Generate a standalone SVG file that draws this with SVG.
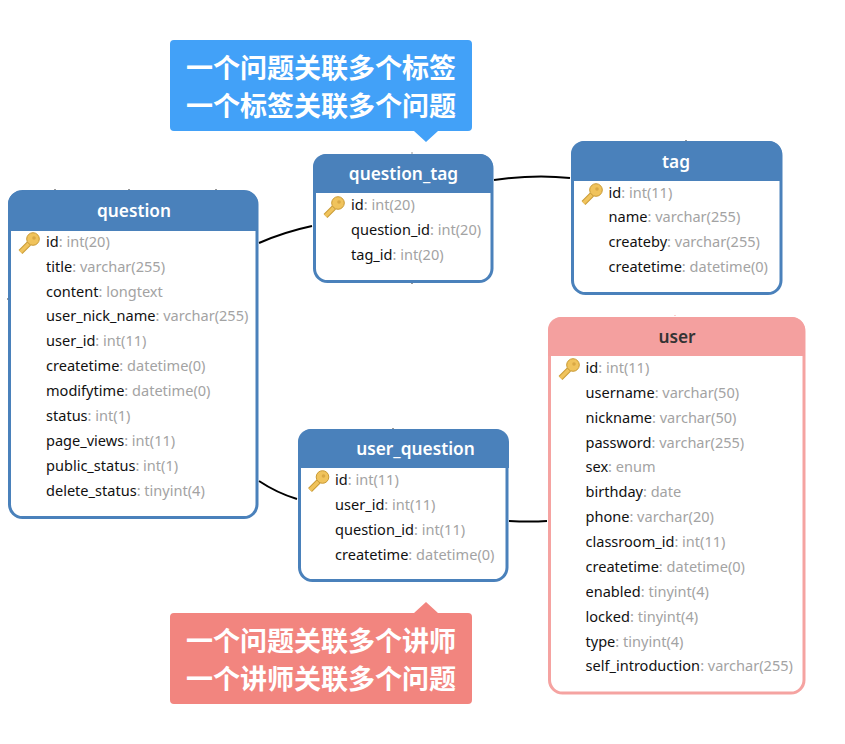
<svg xmlns="http://www.w3.org/2000/svg" width="845" height="744" viewBox="0 0 845 744">
<style>
text{font-family:"Noto Sans","Noto Sans CJK SC",sans-serif}
.box{fill:#fff;stroke-width:3}
.b{stroke:#4a81bb}.r{stroke:#f5a3a1}
.hb{fill:#4a81bb}.hr{fill:#f4a09f}
.t{font-size:17.3px;font-weight:600;text-anchor:middle;fill:#fff}
.td{fill:#333}
.f{font-size:14.55px;fill:#111}
.f tspan{fill:#a3a3a3}
.c{font-size:27px;font-weight:700;fill:#fff;font-family:"Noto Sans CJK SC",sans-serif;text-anchor:middle}
.l{fill:none;stroke:#000;stroke-width:2}
.k{fill:none;stroke:#333;stroke-width:1}
</style>
<defs>
<g id="key">
<path d="M-9.500 10 L-1 1.500" stroke="#c99a35" stroke-width="5.500" fill="none"/>
<path d="M-9.500 10 L-1 1.500" stroke="#f0c35c" stroke-width="3.500" fill="none"/>
<circle cx="3" cy="-3" r="6.300" fill="#f0c35c" stroke="#c99a35" stroke-width="1"/>
<circle cx="4" cy="-4" r="1.800" fill="#d9a845"/>
</g>
</defs>
<g id="connectors">
<path class="l" d="M259 243Q284 232 312 226"/>
<path class="l" d="M494 180Q535 174 570 178"/>
<path class="l" d="M259 481Q277 493 297 499"/>
<path class="l" d="M509 521Q530 522 547 521"/>
<path class="k" d="M55 189v1M129 189v1M216 189v1M8 299h-1M412 152.500v1M412 283v1M686 140v1M393 428v1"/>
<path d="M675 315v1" stroke="#f5a3a1" fill="none"/>
</g>
<g id="note-tag">
<path fill="#42a1f8" d="M174 40H468a4 4 0 0 1 4 4V127a4 4 0 0 1 -4 4H438L426 142L414 131H174a4 4 0 0 1 -4 -4V44a4 4 0 0 1 4 -4Z"/>
<text class="c" x="321" y="77.500">一个问题关联多个标签</text>
<text class="c" x="321" y="115.500">一个标签关联多个问题</text>
</g>
<g id="note-teacher">
<path fill="#f2857f" d="M174 613H414L426 602L438 613H468a4 4 0 0 1 4 4V700a4 4 0 0 1 -4 4H174a4 4 0 0 1 -4 -4V617a4 4 0 0 1 4 -4Z"/>
<text class="c" x="321" y="650.500">一个问题关联多个讲师</text>
<text class="c" x="321" y="688.500">一个讲师关联多个问题</text>
</g>
<g id="question">
<rect class="box b" x="9.500" y="191.500" width="247.500" height="326" rx="13"/>
<path class="hb" d="M8 231V204a13 13 0 0 1 13 -13H245a13 13 0 0 1 13 13V231Z"/>
<text class="t" x="134" y="216.500">question</text>
<use href="#key" x="30" y="242"/>
<text class="f" x="46" y="247">id<tspan>: int(20)</tspan></text>
<text class="f" x="46" y="272">title<tspan>: varchar(255)</tspan></text>
<text class="f" x="46" y="297">content<tspan>: longtext</tspan></text>
<text class="f" x="46" y="321">user_nick_name<tspan>: varchar(255)</tspan></text>
<text class="f" x="46" y="346">user_id<tspan>: int(11)</tspan></text>
<text class="f" x="46" y="371">createtime<tspan>: datetime(0)</tspan></text>
<text class="f" x="46" y="396">modifytime<tspan>: datetime(0)</tspan></text>
<text class="f" x="46" y="421">status<tspan>: int(1)</tspan></text>
<text class="f" x="46" y="446">page_views<tspan>: int(11)</tspan></text>
<text class="f" x="46" y="471">public_status<tspan>: int(1)</tspan></text>
<text class="f" x="46" y="496">delete_status<tspan>: tinyint(4)</tspan></text>
</g>
<g id="question_tag">
<rect class="box b" x="314.500" y="155.500" width="177.500" height="126" rx="13"/>
<path class="hb" d="M313 193V167a13 13 0 0 1 13 -13H480a13 13 0 0 1 13 13V193Z"/>
<text class="t" x="403.500" y="179.500">question_tag</text>
<use href="#key" x="335" y="206"/>
<text class="f" x="351" y="210">id<tspan>: int(20)</tspan></text>
<text class="f" x="351" y="235">question_id<tspan>: int(20)</tspan></text>
<text class="f" x="351" y="260">tag_id<tspan>: int(20)</tspan></text>
</g>
<g id="tag">
<rect class="box b" x="572.500" y="142.500" width="208.500" height="151" rx="13"/>
<path class="hb" d="M571 181V154a13 13 0 0 1 13 -13H769a13 13 0 0 1 13 13V181Z"/>
<text class="t" x="676" y="167.500">tag</text>
<use href="#key" x="593" y="193"/>
<text class="f" x="608.500" y="198">id<tspan>: int(11)</tspan></text>
<text class="f" x="608.500" y="222">name<tspan>: varchar(255)</tspan></text>
<text class="f" x="608.500" y="247">createby<tspan>: varchar(255)</tspan></text>
<text class="f" x="608.500" y="272">createtime<tspan>: datetime(0)</tspan></text>
</g>
<g id="user">
<rect class="box r" x="549.500" y="318.500" width="254.500" height="374.500" rx="13"/>
<path class="hr" d="M548 356V330a13 13 0 0 1 13 -13H792a13 13 0 0 1 13 13V356Z"/>
<text class="t td" x="677" y="342.500">user</text>
<use href="#key" x="570" y="368"/>
<text class="f" x="585.500" y="373">id<tspan>: int(11)</tspan></text>
<text class="f" x="585.500" y="398">username<tspan>: varchar(50)</tspan></text>
<text class="f" x="585.500" y="423">nickname<tspan>: varchar(50)</tspan></text>
<text class="f" x="585.500" y="448">password<tspan>: varchar(255)</tspan></text>
<text class="f" x="585.500" y="472">sex<tspan>: enum</tspan></text>
<text class="f" x="585.500" y="497">birthday<tspan>: date</tspan></text>
<text class="f" x="585.500" y="522">phone<tspan>: varchar(20)</tspan></text>
<text class="f" x="585.500" y="547">classroom_id<tspan>: int(11)</tspan></text>
<text class="f" x="585.500" y="572">createtime<tspan>: datetime(0)</tspan></text>
<text class="f" x="585.500" y="597">enabled<tspan>: tinyint(4)</tspan></text>
<text class="f" x="585.500" y="622">locked<tspan>: tinyint(4)</tspan></text>
<text class="f" x="585.500" y="647">type<tspan>: tinyint(4)</tspan></text>
<text class="f" x="585.500" y="671">self_introduction<tspan>: varchar(255)</tspan></text>
</g>
<g id="user_question">
<rect class="box b" x="299.500" y="430.500" width="207.500" height="150" rx="13"/>
<path class="hb" d="M298 468V442a13 13 0 0 1 13 -13H496a13 13 0 0 1 13 13V468Z"/>
<text class="t" x="415.500" y="454.500">user_question</text>
<use href="#key" x="319.500" y="480"/>
<text class="f" x="335" y="485">id<tspan>: int(11)</tspan></text>
<text class="f" x="335" y="510">user_id<tspan>: int(11)</tspan></text>
<text class="f" x="335" y="535">question_id<tspan>: int(11)</tspan></text>
<text class="f" x="335" y="560">createtime<tspan>: datetime(0)</tspan></text>
</g>
</svg>
